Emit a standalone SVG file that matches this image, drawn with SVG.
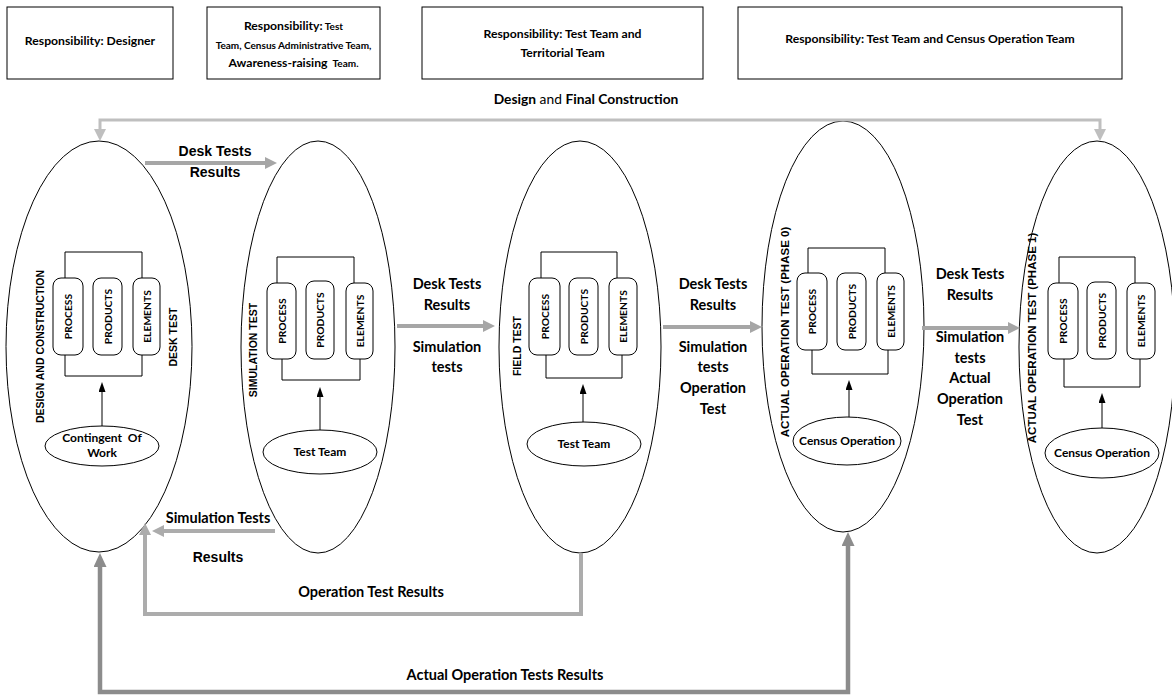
<svg xmlns="http://www.w3.org/2000/svg" width="1172" height="696" viewBox="0 0 1172 696">
  <style>
    .box { fill: #ffffff; stroke: #000000; stroke-width: 1; }
    .resp { font-family: Lato, "Liberation Sans", sans-serif; font-weight: bold; font-size: 12.2px; fill: #000; text-anchor: middle; }
    .resp-s { font-size: 10px; }
    .stage { fill: #ffffff; stroke: #000000; stroke-width: 1; }
    .part { fill: #ffffff; stroke: #000000; stroke-width: 1; }
    .bracket { fill: none; stroke: #000000; stroke-width: 1; }
    .feed { stroke: #000000; stroke-width: 1; marker-end: url(#headBlack); }
    .src { fill: #ffffff; stroke: #000000; stroke-width: 1; }
    .src-t { font-family: Lato, "Liberation Sans", sans-serif; font-weight: bold; font-size: 12px; text-anchor: middle; fill: #000; }
    .part-t { font-family: Lato, "Liberation Sans", sans-serif; font-weight: bold; font-size: 10.3px; text-anchor: middle; dominant-baseline: central; fill: #000; }
    .stage-t { font-family: "Liberation Sans", Arial, sans-serif; font-weight: bold; font-size: 10.5px; text-anchor: middle; dominant-baseline: central; fill: #000; }
    .stage-p { font-size: 11.5px; }
    .lbl { font-family: Lato, "Liberation Sans", sans-serif; font-weight: bold; font-size: 14.5px; text-anchor: middle; fill: #000; }
    .lbl-a { font-family: "Liberation Sans", Arial, sans-serif; font-weight: bold; font-size: 14px; text-anchor: middle; fill: #000; }
    .top-t { font-family: Lato, "Liberation Sans", sans-serif; font-size: 13.8px; text-anchor: middle; fill: #000; }
    .flow-top { fill: none; stroke: #bfbfbf; stroke-width: 3; marker-end: url(#headLight); }
    .flow-desk { fill: none; stroke: #a6a6a6; stroke-width: 4; marker-end: url(#headMid); }
    .flow-back { fill: none; stroke: #acacac; stroke-width: 4; marker-end: url(#headBack); }
    .flow-actual { fill: none; stroke: #8c8c8c; stroke-width: 4.5; marker-start: url(#headDarkStart); marker-end: url(#headDark); }
  </style>
  <defs>
    <marker id="headLight" markerUnits="userSpaceOnUse" markerWidth="12" markerHeight="12" refX="2" refY="6" orient="auto">
      <path d="M0,0 L12,6 L0,12 z" fill="#bfbfbf"/>
    </marker>
    <marker id="headMid" markerUnits="userSpaceOnUse" markerWidth="12" markerHeight="12" refX="2" refY="6" orient="auto">
      <path d="M0,0 L12,6 L0,12 z" fill="#a6a6a6"/>
    </marker>
    <marker id="headBack" markerUnits="userSpaceOnUse" markerWidth="12" markerHeight="12" refX="2" refY="6" orient="auto">
      <path d="M0,0 L12,6 L0,12 z" fill="#acacac"/>
    </marker>
    <marker id="headDark" markerUnits="userSpaceOnUse" markerWidth="14" markerHeight="13" refX="2" refY="6.5" orient="auto">
      <path d="M0,0 L14,6.5 L0,13 z" fill="#8c8c8c"/>
    </marker>
    <marker id="headDarkStart" markerUnits="userSpaceOnUse" markerWidth="14" markerHeight="13" refX="2" refY="6.5" orient="auto-start-reverse">
      <path d="M0,0 L14,6.5 L0,13 z" fill="#8c8c8c"/>
    </marker>
    <marker id="headBlack" markerUnits="userSpaceOnUse" markerWidth="10" markerHeight="7" refX="1" refY="3.5" orient="auto">
      <path d="M0,0 L10,3.5 L0,7 z" fill="#000000"/>
    </marker>
  </defs>

  <rect x="0" y="0" width="1172" height="696" fill="#ffffff"/>

  <!-- Responsibility boxes -->
  <g id="resp-designer">
    <rect class="box" x="7" y="7" width="166" height="72"/>
    <text class="resp" x="90" y="45">Responsibility: Designer</text>
  </g>
  <g id="resp-simulation">
    <rect class="box" x="207" y="7" width="173" height="72"/>
    <text class="resp" x="293.5" y="30">Responsibility:<tspan class="resp-s"> Test</tspan></text>
    <text class="resp resp-s" x="293.5" y="48.5">Team, Census Administrative Team,</text>
    <text class="resp" x="293.5" y="67" xml:space="preserve">Awareness-raising <tspan class="resp-s"> Team.</tspan></text>
  </g>
  <g id="resp-field">
    <rect class="box" x="422" y="7" width="281" height="72"/>
    <text class="resp" x="562.5" y="38">Responsibility: Test Team and</text>
    <text class="resp" x="562.5" y="56.5">Territorial Team</text>
  </g>
  <g id="resp-operation">
    <rect class="box" x="738" y="7" width="384" height="72"/>
    <text class="resp" x="930" y="43">Responsibility: Test Team and Census Operation Team</text>
  </g>

  <!-- Stage 1: design and construction -->
  <g id="stage-design">
    <ellipse class="stage" cx="99" cy="346.5" rx="93" ry="205.5"/>
    <text class="stage-t" transform="translate(40,346.5) rotate(-90)">DESIGN AND CONSTRUCTION</text>
    <text class="stage-t" transform="translate(173,337) rotate(-90)">DESK TEST</text>
    <path class="bracket" d="M65,278 V252 H142 V278"/>
    <path class="bracket" d="M65,355 V376 H142 V355"/>
    <rect class="part" x="53" y="278" width="30" height="77" rx="8"/>
    <rect class="part" x="93" y="278" width="29" height="77" rx="8"/>
    <rect class="part" x="133" y="278" width="27" height="77" rx="8"/>
    <text class="part-t" transform="translate(68,316.5) rotate(-90)">PROCESS</text>
    <text class="part-t" transform="translate(107.5,316.5) rotate(-90)">PRODUCTS</text>
    <text class="part-t" transform="translate(146.5,316.5) rotate(-90)">ELEMENTS</text>
    <line class="feed" x1="102" y1="426" x2="102" y2="391"/>
    <ellipse class="src" cx="102" cy="446" rx="57" ry="20"/>
    <text class="src-t" x="102" y="442" xml:space="preserve">Contingent  Of</text>
    <text class="src-t" x="102" y="457">Work</text>
  </g>

  <!-- Stage 2: simulation test -->
  <g id="stage-simulation">
    <ellipse class="stage" cx="318" cy="347" rx="77" ry="206"/>
    <text class="stage-t" transform="translate(253,350) rotate(-90)">SIMULATION TEST</text>
    <path class="bracket" d="M277,283 V257 H354 V283"/>
    <path class="bracket" d="M282,359 V380 H360 V359"/>
    <rect class="part" x="267" y="283" width="29" height="76" rx="8"/>
    <rect class="part" x="306" y="281" width="28" height="78" rx="8"/>
    <rect class="part" x="346" y="283" width="27" height="76" rx="8"/>
    <text class="part-t" transform="translate(281.5,321) rotate(-90)">PROCESS</text>
    <text class="part-t" transform="translate(320,320) rotate(-90)">PRODUCTS</text>
    <text class="part-t" transform="translate(359.5,321) rotate(-90)">ELEMENTS</text>
    <line class="feed" x1="320" y1="430" x2="320" y2="396"/>
    <ellipse class="src" cx="320" cy="452" rx="57" ry="22"/>
    <text class="src-t" x="320" y="456">Test Team</text>
  </g>

  <!-- Stage 3: field test -->
  <g id="stage-field">
    <ellipse class="stage" cx="580" cy="347" rx="81" ry="206"/>
    <text class="stage-t" transform="translate(517,346) rotate(-90)">FIELD TEST</text>
    <path class="bracket" d="M541,278 V252 H617 V278"/>
    <path class="bracket" d="M546,355 V378 H622 V355"/>
    <rect class="part" x="529" y="278" width="31" height="77" rx="8"/>
    <rect class="part" x="569" y="278" width="29" height="77" rx="8"/>
    <rect class="part" x="609" y="278" width="28" height="77" rx="8"/>
    <text class="part-t" transform="translate(544.5,316.5) rotate(-90)">PROCESS</text>
    <text class="part-t" transform="translate(583.5,316.5) rotate(-90)">PRODUCTS</text>
    <text class="part-t" transform="translate(623,316.5) rotate(-90)">ELEMENTS</text>
    <line class="feed" x1="583" y1="422" x2="583" y2="393"/>
    <ellipse class="src" cx="584" cy="444" rx="57" ry="22"/>
    <text class="src-t" x="584" y="448">Test Team</text>
  </g>

  <!-- Stage 4: actual operation test, phase 0 -->
  <g id="stage-phase0">
    <ellipse class="stage" cx="843" cy="326.5" rx="81" ry="205.5"/>
    <text class="stage-t stage-p" transform="translate(785,332) rotate(-90)">ACTUAL OPERATION TEST (PHASE 0)</text>
    <path class="bracket" d="M808,273 V248 H885 V273"/>
    <path class="bracket" d="M812,350 V374 H888 V350"/>
    <rect class="part" x="797" y="273" width="30" height="77" rx="8"/>
    <rect class="part" x="837" y="273" width="29" height="77" rx="8"/>
    <rect class="part" x="877" y="273" width="27" height="77" rx="8"/>
    <text class="part-t" transform="translate(812,311.5) rotate(-90)">PROCESS</text>
    <text class="part-t" transform="translate(851.5,311.5) rotate(-90)">PRODUCTS</text>
    <text class="part-t" transform="translate(890.5,311.5) rotate(-90)">ELEMENTS</text>
    <line class="feed" x1="849" y1="417" x2="849" y2="389"/>
    <ellipse class="src" cx="847" cy="441" rx="54" ry="24"/>
    <text class="src-t" x="847" y="445">Census Operation</text>
  </g>

  <!-- Stage 5: actual operation test, phase 1 -->
  <g id="stage-phase1">
    <ellipse class="stage" cx="1097" cy="347" rx="78" ry="206"/>
    <text class="stage-t stage-p" transform="translate(1032,338) rotate(-90)">ACTUAL OPERATION TEST (PHASE 1)</text>
    <path class="bracket" d="M1059,283 V257 H1135 V283"/>
    <path class="bracket" d="M1064,359 V387 H1140 V359"/>
    <rect class="part" x="1048" y="283" width="30" height="76" rx="8"/>
    <rect class="part" x="1087" y="282" width="29" height="77" rx="8"/>
    <rect class="part" x="1127" y="283" width="28" height="76" rx="8"/>
    <text class="part-t" transform="translate(1063,321) rotate(-90)">PROCESS</text>
    <text class="part-t" transform="translate(1101.5,320.5) rotate(-90)">PRODUCTS</text>
    <text class="part-t" transform="translate(1141,321) rotate(-90)">ELEMENTS</text>
    <line class="feed" x1="1102" y1="428" x2="1102" y2="402"/>
    <ellipse class="src" cx="1102" cy="453" rx="57" ry="25"/>
    <text class="src-t" x="1102" y="457">Census Operation</text>
  </g>

  <!-- Flows between stages -->
  <g id="connectors">
    <path class="flow-top" d="M600,120 H100 V131"/>
    <path class="flow-top" d="M600,120 H1100 V131"/>
    <path class="flow-desk" d="M145,163 H267"/>
    <path class="flow-desk" d="M397,326 H485"/>
    <path class="flow-desk" d="M663,327 H752"/>
    <path class="flow-desk" d="M922,328 H1010"/>
    <path class="flow-back" d="M275,531 H162"/>
    <path class="flow-back" d="M581,553 V614 H145 V533"/>
    <path class="flow-actual" d="M100,565 V692 H848 V544"/>
  </g>

  <!-- Flow labels -->
  <g id="flow-labels">
    <text class="top-t" x="586" y="104"><tspan font-weight="bold">Design</tspan> and <tspan font-weight="bold">Final Construction</tspan></text>
    <text class="lbl-a" x="215" y="156">Desk Tests</text>
    <text class="lbl-a" x="215" y="177">Results</text>
    <text class="lbl" x="447" y="289">Desk Tests</text>
    <text class="lbl" x="447" y="310">Results</text>
    <text class="lbl" x="447" y="352">Simulation</text>
    <text class="lbl" x="447" y="372">tests</text>
    <text class="lbl" x="713" y="289">Desk Tests</text>
    <text class="lbl" x="713" y="310">Results</text>
    <text class="lbl" x="713" y="352">Simulation</text>
    <text class="lbl" x="713" y="372">tests</text>
    <text class="lbl" x="713" y="393">Operation</text>
    <text class="lbl" x="713" y="414">Test</text>
    <text class="lbl" x="970" y="279">Desk Tests</text>
    <text class="lbl" x="970" y="300">Results</text>
    <text class="lbl" x="970" y="342">Simulation</text>
    <text class="lbl" x="970" y="363">tests</text>
    <text class="lbl" x="970" y="383">Actual</text>
    <text class="lbl" x="970" y="404">Operation</text>
    <text class="lbl" x="970" y="425">Test</text>
    <text class="lbl" x="218" y="523">Simulation Tests</text>
    <text class="lbl-a" x="218" y="562">Results</text>
    <text class="lbl" x="371" y="597">Operation Test Results</text>
    <text class="lbl" x="505" y="680">Actual Operation Tests Results</text>
  </g>
</svg>
